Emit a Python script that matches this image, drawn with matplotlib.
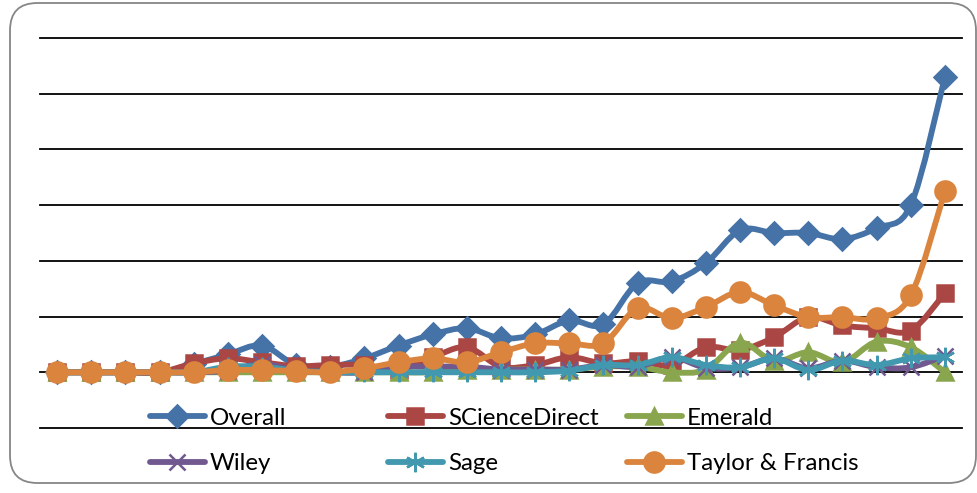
import numpy as np
import matplotlib.pyplot as plt
from matplotlib.path import Path
from matplotlib.patches import PathPatch, FancyBboxPatch
from matplotlib.lines import Line2D

plt.rcParams['font.family'] = ['Lato', 'DejaVu Sans']

# values (27 periods, gridlines every 10)
overall = [0, 0, 0, 0, 1.5, 3.2, 4.8, 1.3, 1.0, 2.5, 4.8, 6.8, 7.9, 6.1, 6.8,
           9.3, 8.6, 16.0, 16.3, 19.6, 25.5, 25.0, 25.0, 23.9, 25.9, 30.0, 53.0]
sciencedirect = [0, 0, 0, 0, 1.6, 2.5, 1.8, 1.1, 1.3, 1.3, 0.4, 2.7, 4.5, 1.0, 1.3,
                 2.7, 1.6, 2.0, 1.3, 4.5, 4.0, 6.3, 9.9, 8.4, 7.9, 7.5, 14.2]
emerald = [0, 0, 0, 0, 0, 0, 0, 0, 0, 0, 0, 0, 0.5, 0.5, 0.5,
           0.5, 1.0, 1.0, 0, 0.5, 5.3, 2.0, 3.6, 1.8, 5.5, 4.5, 0]
wiley = [0, 0, 0, 0, 0, 0.3, 1.5, 0.3, 0, 0, 1.0, 1.0, 1.0, 0.5, 0.5,
         0.5, 1.3, 1.0, 2.7, 0.8, 0.9, 2.5, 0.7, 2.1, 0.9, 0.9, 3.0]
sage = [0, 0, 0, 0, 0, 1.0, 1.0, 0.3, 0, 0, 0, 0, 0, 0, 0,
        0.3, 1.3, 1.3, 2.7, 1.3, 0.9, 2.5, 0.4, 2.1, 1.3, 2.5, 2.7]
taylor = [0, 0, 0, 0, 0, 0.4, 0.4, 0.2, 0, 0.7, 1.8, 2.5, 1.8, 3.6, 5.2,
          5.2, 5.2, 11.5, 9.7, 11.7, 14.4, 12.0, 9.9, 9.9, 9.7, 13.8, 32.5]

names = ['Overall', 'SCienceDirect', 'Emerald', 'Wiley', 'Sage', 'Taylor & Francis']
series = [overall, sciencedirect, emerald, wiley, sage, taylor]
colors = ['#4572A7', '#AA4643', '#89A54E', '#71588F', '#4198AF', '#DB843D']
markers = ['D', 's', '^', 'x', (6, 2, 0), 'o']
msizes = [11, 11, 12, 12, 14, 14.5]


def smooth_path(xs, ys):
    # Excel style smoothed line: cubic bezier through each point
    p = np.column_stack([xs, ys]).astype(float)
    n = len(p)
    verts = [p[0]]
    codes = [Path.MOVETO]
    for i in range(n - 1):
        p0 = p[i - 1] if i > 0 else p[i]
        p3 = p[i + 2] if i + 2 < n else p[i + 1]
        c1 = p[i] + (p[i + 1] - p0) / 6.0
        c2 = p[i + 1] - (p3 - p[i]) / 6.0
        verts += [c1, c2, p[i + 1]]
        codes += [Path.CURVE4] * 3
    return Path(verts, codes)


fig = plt.figure(figsize=(9.78, 4.93), dpi=100)
ax = fig.add_axes([40 / 978, 1 - 428 / 493, 922 / 978, 390 / 493])

x = np.arange(len(overall))
handles = []
for k, (name, vals, c, m, ms) in enumerate(zip(names, series, colors, markers, msizes)):
    z = 3 + k * 2
    patch = PathPatch(smooth_path(x, vals), facecolor='none', edgecolor=c, lw=4.2,
                      capstyle='round', joinstyle='round', zorder=z)
    ax.add_patch(patch)
    ax.plot(x, vals, linestyle='none', marker=m, markersize=ms, color=c,
            markeredgecolor=c, markeredgewidth=1.8, zorder=z + 1)
    handles.append(Line2D([], [], color=c, lw=4.2, marker=m, markersize=ms,
                          markeredgecolor=c, markeredgewidth=1.8,
                          solid_capstyle='round'))

ax.set_xlim(-0.5, 26.5)
ax.set_ylim(-10, 60)
ax.set_yticks(np.arange(-10, 61, 10))
ax.yaxis.grid(True, color='black', lw=1.3)
ax.set_axisbelow(True)
ax.tick_params(left=False, bottom=False, labelleft=False, labelbottom=False)
for s in ax.spines.values():
    s.set_visible(False)
for gl in ax.get_ygridlines():
    gl.set_clip_on(False)

# legend: three columns of two rows
col_x = [150, 388, 627]
for j in range(3):
    leg = fig.legend([handles[j], handles[j + 3]], [names[j], names[j + 3]],
                     loc='center left', bbox_to_anchor=(col_x[j] / 978, 1 - 441 / 493),
                     frameon=False, fontsize=17.3, handlelength=2.28,
                     handletextpad=0.22, labelspacing=1.03, borderpad=0,
                     borderaxespad=0)
    leg.set_zorder(20)

# rounded chart border
border = FancyBboxPatch((10 / 978, 10 / 493), 966 / 978, 480 / 493,
                        boxstyle='round,pad=0,rounding_size=0.028',
                        transform=fig.transFigure, facecolor='none',
                        edgecolor='#868686', lw=1.3, mutation_aspect=978 / 493)
fig.patches.append(border)

fig.savefig('out.png', dpi=100)
